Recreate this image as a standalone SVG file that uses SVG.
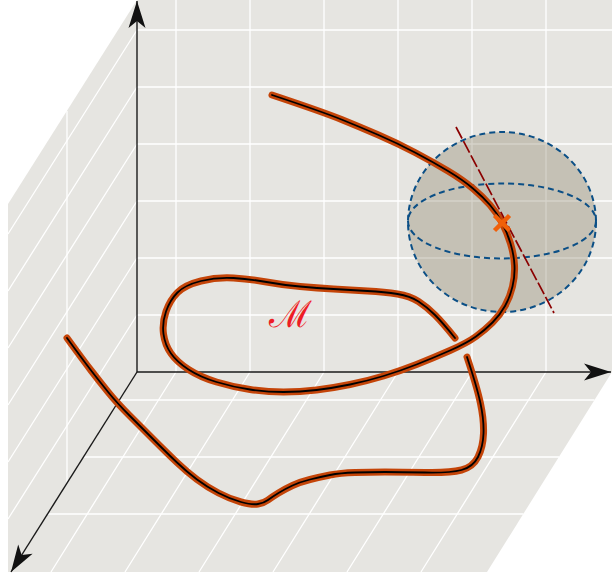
<svg xmlns="http://www.w3.org/2000/svg" width="612" height="577" viewBox="0 0 612 577">
<defs>
<style>
.grid{stroke:#ffffff;stroke-width:1.3;fill:none}
.axis{stroke:#1a1a1a;stroke-width:1.4;fill:none}
.under{stroke:#c44408;stroke-width:7;fill:none;stroke-linecap:round;stroke-linejoin:round}
.core{stroke:#000000;stroke-width:1.8;fill:none;stroke-linecap:round;stroke-linejoin:round}
.sdash{stroke:#0b4f86;stroke-width:2;stroke-dasharray:6 4}
</style>
<marker id="arr" viewBox="-28 -10 30 20" refX="0" refY="0" markerWidth="30" markerHeight="20" markerUnits="userSpaceOnUse" orient="auto">
<path d="M0,0 L-27,-8.5 L-20,0 L-27,8.5 Z" fill="#111111"/>
</marker>
</defs>
<rect x="0" y="0" width="612" height="577" fill="#ffffff"/>
<g id="planes">
<polygon points="137,0 612,0 612,372 487,572 8,572 8,204" fill="#e6e5e1"/>
<g class="grid">
<path d="M176,0V372M250,0V372M324,0V372M398,0V372M472,0V372M546,0V372"/>
<path d="M137,30H612M137,87H612M137,144H612M137,201H612M137,258H612M137,315H612"/>
<path d="M137,30L8,234M137,87L8,291M137,144L8,348M137,201L8,405M137,258L8,462M137,315L8,519"/>
<path d="M67,111V483"/>
<path d="M176,372L51,572M250,372L125,572M324,372L199,572M398,372L273,572M472,372L347,572M546,372L421,572"/>
<path d="M119.3,400H594.5M83.3,457H559M47.3,514H523.5"/>
</g>
</g>
<g id="axes">
<path class="axis" d="M137,372V1" marker-end="url(#arr)"/>
<path class="axis" d="M137,372H611" marker-end="url(#arr)"/>
<path class="axis" d="M137,372L11,572" marker-end="url(#arr)"/>
</g>
<g id="sphere">
<ellipse cx="502" cy="222" rx="94" ry="90" class="sdash" style="fill:#877d64;fill-opacity:0.35"/>
<ellipse cx="502" cy="221" rx="94" ry="37.5" class="sdash" style="fill:none"/>
</g>
<g id="connectors">
<g id="curve1">
<path class="under" d="M272,95 Q323,112 341.5,119.5 Q360,127 378.5,135 Q397,143 415,152.5 Q433,162 448,171 Q463,180 473,188.5 Q483,197 490,205 Q497,213 502,222.5 Q507,232 510.5,243.5 Q514,255 514.5,265.5 Q515,276 512.5,286.5 Q510,297 505,306 Q500,315 492.5,322.5 Q485,330 476,336.5 Q467,343 450,350.5 Q433,358 416.5,364.5 Q400,371 383.5,376 Q367,381 350,384.5 Q333,388 316.5,390 Q300,392 283.5,392 Q267,392 250,389.5 Q233,387 216.5,382 Q200,377 188.5,369.5 Q177,362 171,353.5 Q165,345 163.5,334 Q162,323 166,311.5 Q170,300 177.5,292.5 Q185,285 201,281 Q217,277 233.5,278 Q250,279 266.5,282 Q283,285 300,286.5 Q317,288 333.5,289 Q350,290 367.5,291 Q385,292 397.5,294 Q410,296 418.5,301.5 Q427,307 435,315 Q443,323 455,338"/>
<path class="core" d="M272,95 Q323,112 341.5,119.5 Q360,127 378.5,135 Q397,143 415,152.5 Q433,162 448,171 Q463,180 473,188.5 Q483,197 490,205 Q497,213 502,222.5 Q507,232 510.5,243.5 Q514,255 514.5,265.5 Q515,276 512.5,286.5 Q510,297 505,306 Q500,315 492.5,322.5 Q485,330 476,336.5 Q467,343 450,350.5 Q433,358 416.5,364.5 Q400,371 383.5,376 Q367,381 350,384.5 Q333,388 316.5,390 Q300,392 283.5,392 Q267,392 250,389.5 Q233,387 216.5,382 Q200,377 188.5,369.5 Q177,362 171,353.5 Q165,345 163.5,334 Q162,323 166,311.5 Q170,300 177.5,292.5 Q185,285 201,281 Q217,277 233.5,278 Q250,279 266.5,282 Q283,285 300,286.5 Q317,288 333.5,289 Q350,290 367.5,291 Q385,292 397.5,294 Q410,296 418.5,301.5 Q427,307 435,315 Q443,323 455,338"/>
</g>
<g id="curve2">
<path class="under" d="M67,338 Q83,360 91.5,371 Q100,382 108.5,392.5 Q117,403 129.5,415.5 Q142,428 154.5,440.5 Q167,453 177,462.5 Q187,472 197,479.5 Q207,487 218.5,493 Q230,499 241,502 Q252,505 258,504 Q264,503 268,500 Q272,497 278.5,493 Q285,489 292.5,485.5 Q300,482 310,479.5 Q320,477 330,475 Q340,473 355,472.5 Q370,472 385,472 Q400,472 425,472.5 Q450,473 461.5,470 Q473,467 478,457 Q483,447 483.5,433.5 Q484,420 480.5,403.5 Q477,387 467,357"/>
<path class="core" d="M67,338 Q83,360 91.5,371 Q100,382 108.5,392.5 Q117,403 129.5,415.5 Q142,428 154.5,440.5 Q167,453 177,462.5 Q187,472 197,479.5 Q207,487 218.5,493 Q230,499 241,502 Q252,505 258,504 Q264,503 268,500 Q272,497 278.5,493 Q285,489 292.5,485.5 Q300,482 310,479.5 Q320,477 330,475 Q340,473 355,472.5 Q370,472 385,472 Q400,472 425,472.5 Q450,473 461.5,470 Q473,467 478,457 Q483,447 483.5,433.5 Q484,420 480.5,403.5 Q477,387 467,357"/>
</g>
<path id="tangent" d="M456,127 L554,313" stroke="#8b0000" stroke-width="1.7" stroke-dasharray="13 3" fill="none"/>
</g>
<g id="point">
<path d="M494.5,215.5 L509.5,230.5 M509.5,215.5 L494.5,230.5" stroke="#f0600a" stroke-width="4.5" fill="none"/>
</g>
<g id="label">
<text x="290" y="327" font-family="DejaVu Serif, serif" font-size="37" fill="#ee1c25" text-anchor="middle">ℳ</text>
</g>
</svg>
